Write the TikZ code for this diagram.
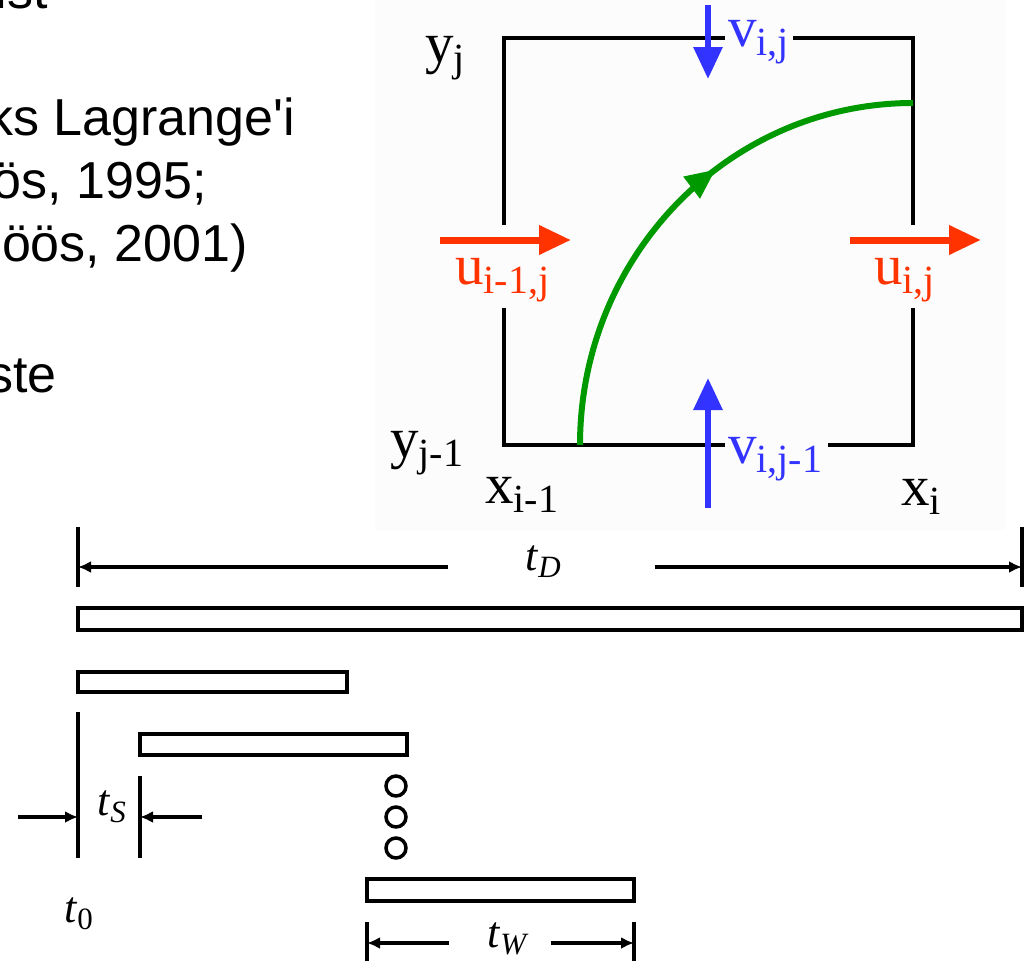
\documentclass[tikz,border=0pt]{standalone}
\usepackage{fontspec}
\setmainfont{Liberation Serif}
\newfontfamily\sansf{Liberation Sans}
\usetikzlibrary{arrows.meta,decorations.markings}
\definecolor{vred}{HTML}{FF3300}
\definecolor{vblue}{HTML}{3333FF}
\definecolor{vgreen}{HTML}{009900}
\definecolor{bgpic}{RGB}{252,252,252}
\newcommand\cellsub[2]{#1\raisebox{-9pt}{\fontsize{40}{40}\selectfont #2}}
\newcommand\tsub[2]{\textit{#1}\raisebox{-7pt}{\fontsize{31}{31}\selectfont #2}}
\begin{document}
\begin{tikzpicture}[x=1pt,y=-1pt,
  txt/.style={inner sep=0pt,anchor=base east,font=\sansf\fontsize{52}{63}\selectfont},
  lab/.style={inner sep=0pt,anchor=base west,font=\fontsize{57}{60}\selectfont},
  tlab/.style={inner sep=0pt,anchor=base west,font=\fontsize{44}{46}\selectfont},
  wall/.style={line width=4pt,line join=miter},
  bluearrow/.style={draw=vblue,line width=6pt,-{Triangle[length=32pt,width=28pt]}},
  redarrow/.style={draw=vred,line width=7pt,-{Triangle[length=32pt,width=28pt]}},
  tl/.style={line width=3.5pt},
  tlarrow/.style={line width=3.5pt,-{Latex[length=13pt,width=12pt]}},
  bar/.style={line width=3.5pt,line join=miter},
  dot/.style={circle,draw,line width=3.5pt,minimum size=20pt,inner sep=0pt}
]
\useasboundingbox (0,0) rectangle (1027,961);
\clip (0,0) rectangle (1027,961);
\fill[white] (0,0) rectangle (1027,961);
\fill[bgpic] (375,0) rectangle (1006,530);

% left text fragments
\node[txt] (l1) at (48,9) {ist};
\node[txt] (l2) at (295,135) {ks Lagrange'i};
\node[txt] (l3) at (207,198) {ös, 1995;};
\node[txt] (l4) at (248,261) {öös, 2001)};
\node[txt] (l5) at (57,392) {ste};

% cell walls
\draw[wall] (504,225) -- (504,38) -- (725,38);
\draw[wall] (793,38) -- (913,38) -- (913,225);
\draw[wall] (504,308) -- (504,445) -- (725,445);
\draw[wall] (828,445) -- (913,445) -- (913,308);

% green trajectory
\coordinate (gs) at (580,445);
\coordinate (ge) at (913,103);
\draw[vgreen,line width=6pt,
  postaction={decorate,decoration={markings,
    mark=at position 0.6 with {\arrow[vgreen]{Triangle[length=30pt,width=26pt]}}}}]
  (gs) .. controls (580,256) and (729,103) .. (ge);

% velocity arrows
\coordinate (vt0) at (708,5);   \coordinate (vt1) at (708,79);
\coordinate (vb0) at (708,508); \coordinate (vb1) at (708,378);
\coordinate (ul0) at (440,240); \coordinate (ul1) at (571,240);
\coordinate (ur0) at (850,240); \coordinate (ur1) at (981,240);
\draw[bluearrow] (vt0) -- (vt1);
\draw[bluearrow] (vb0) -- (vb1);
\draw[redarrow] (ul0) -- (ul1);
\draw[redarrow] (ur0) -- (ur1);

% cell labels
\node[lab,text=vblue] (vij) at (728,46) {\cellsub{v}{i,j}};
\node[lab,text=vblue] (vij1) at (728,463) {\cellsub{v}{i,j-1}};
\node[lab,text=vred] (uim) at (455,284) {\cellsub{u}{i-1,j}};
\node[lab,text=vred] (uij) at (874,284) {\cellsub{u}{i,j}};
\node[lab] (yj) at (425,62) {\cellsub{y}{j}};
\node[lab] (yj1) at (390,457) {\cellsub{y}{j-1}};
\node[lab] (xi1) at (485,503) {\cellsub{x}{i-1}};
\node[lab] (xi) at (901,505) {\cellsub{x}{i}};

% timeline: total duration
\draw[tl] (78,527) -- (78,587);
\draw[tl] (1022,527) -- (1022,587);
\draw[tlarrow] (448,567) -- (78,567);
\draw[tlarrow] (655,567) -- (1022,567);
\node[tlab] (tD) at (525,570) {\tsub{t}{\textit{D}}};

% bars
\draw[bar] (78,608) rectangle (1022,630);
\draw[bar] (78,672) rectangle (347,692);
\draw[bar] (140,734) rectangle (407,755);
\draw[bar] (367,879) rectangle (634,901);

% t_S
\draw[tl] (78,712) -- (78,858);
\draw[tl] (140,776) -- (140,858);
\draw[tlarrow] (18,817) -- (78,817);
\draw[tlarrow] (202,817) -- (140,817);
\node[tlab] (tS) at (97,815) {\tsub{t}{\textit{S}}};

% dots
\node[dot] (d1) at (396,786) {};
\node[dot] (d2) at (396,817) {};
\node[dot] (d3) at (396,848) {};

% t_0
\node[tlab] (t0) at (64,922) {\tsub{t}{0}};

% t_W
\draw[tl] (367,922) -- (367,961);
\draw[tl] (634,922) -- (634,961);
\draw[tlarrow] (449,943) -- (367,943);
\draw[tlarrow] (551,943) -- (634,943);
\node[tlab] (tW) at (487,947) {\tsub{t}{\textit{W}}};
\end{tikzpicture}
\end{document}
